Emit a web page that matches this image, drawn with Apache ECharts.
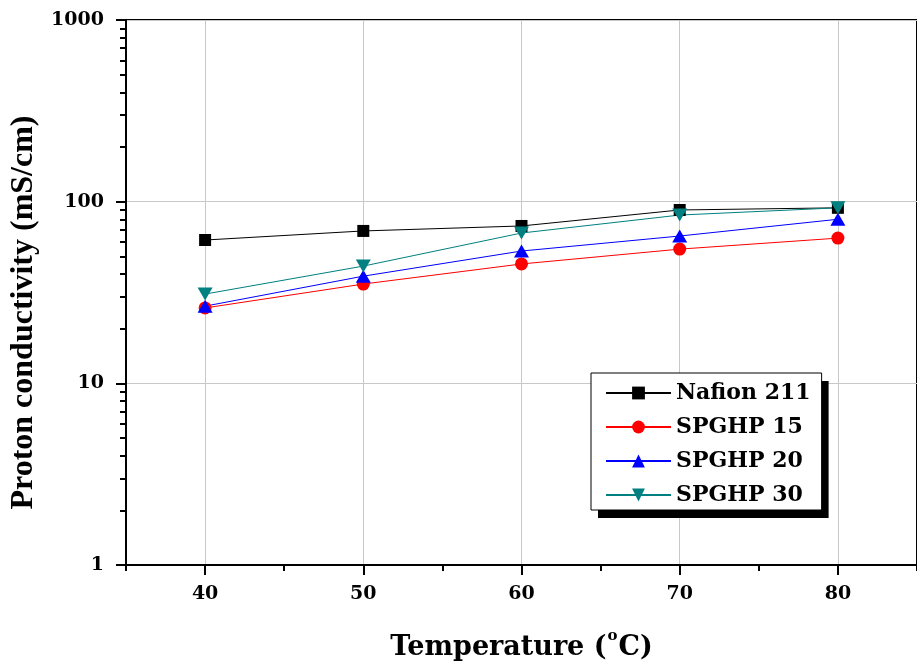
<!DOCTYPE html>
<html>
<head>
<meta charset="utf-8">
<script src="https://cdn.jsdelivr.net/npm/echarts@6/dist/echarts.min.js"></script>
<style>
  html, body { margin: 0; padding: 0; background: #fff; }
  #chart { width: 917px; height: 666px; }
</style>
</head>
<body>
<div id="chart"></div>
<script>
// Temperature (°C) and proton conductivity (mS/cm) of each membrane
const temperatures = [40, 50, 60, 70, 80];
const nafion211 = [61.5, 69, 73.5, 90, 92.5];
const spghp15 = [26, 35.2, 45.4, 54.8, 63];
const spghp20 = [26.6, 38.9, 53.5, 64.7, 80];
const spghp30 = [31, 44.2, 67.2, 84.4, 92.5];

const seriesNames = ['Nafion 211', 'SPGHP 15', 'SPGHP 20', 'SPGHP 30'];

// Axis tick positions
const xMajorTicks = [40, 50, 60, 70, 80];
const xMinorTicks = [35, 45, 55, 65, 75, 85];
const yMinorTicks = [2, 3, 4, 5, 6, 7, 8, 9, 20, 30, 40, 50, 60, 70, 80, 90, 200, 300, 400, 500, 600, 700, 800, 900];

const hFont = 'DejaVu Serif';
const vFont = 'Liberation Serif';

function pairs(values) {
  return temperatures.map((t, i) => [t, values[i]]);
}

const downTriangle = 'path://M0,0 L10,0 L5,9 Z';

// Shared legend layout; the lower copy carries the white box and its drop shadow,
// the upper copy carries the thin outline (so the outline casts no shadow).
const legendBase = {
  orient: 'vertical',
  left: 591, top: 373,
  itemWidth: 65, itemHeight: 16, itemGap: 10,
  padding: [8, 11, 3, 14],
  textStyle: { fontFamily: hFont, fontWeight: 'bold', fontSize: 22, color: '#000', lineHeight: 24 },
  data: seriesNames
};

const chart = echarts.init(document.getElementById('chart'), null, { renderer: 'canvas' });

chart.setOption({
  animation: false,
  backgroundColor: '#fff',
  grid: {
    left: 126, top: 20, width: 797, height: 545,
    show: true, borderColor: '#000', borderWidth: 2, backgroundColor: 'transparent'
  },
  legend: [
    Object.assign({}, legendBase, {
      backgroundColor: '#fff',
      borderWidth: 0,
      shadowColor: '#000', shadowBlur: 0, shadowOffsetX: 7, shadowOffsetY: 8
    }),
    Object.assign({}, legendBase, {
      backgroundColor: 'transparent',
      borderColor: '#000', borderWidth: 1,
      textStyle: Object.assign({}, legendBase.textStyle, { color: 'rgba(0,0,0,0)' }),
      itemStyle: { opacity: 0 },
      lineStyle: { opacity: 0 }
    })
  ],
  xAxis: [
    {
      type: 'value', min: 35, max: 85,
      position: 'bottom',
      axisLine: { show: true, lineStyle: { color: '#000', width: 2 } },
      axisTick: { show: true, customValues: xMajorTicks, length: 10, lineStyle: { color: '#000', width: 2 } },
      axisLabel: {
        customValues: xMajorTicks, margin: 20,
        fontFamily: hFont, fontWeight: 'bold', fontSize: 19, color: '#000'
      },
      splitLine: { show: true, lineStyle: { color: '#c8c8c8', width: 1 } },
      name: '{t|Temperature (}{s|o}{t|C)}',
      nameLocation: 'middle',
      nameGap: 64,
      nameTextStyle: {
        rich: {
          t: { fontFamily: hFont, fontWeight: 'bold', fontSize: 27, color: '#000', verticalAlign: 'bottom', lineHeight: 32 },
          s: { fontFamily: hFont, fontWeight: 'bold', fontSize: 15, color: '#000', verticalAlign: 'top', lineHeight: 32, padding: [0, 1, 10, 1] }
        }
      }
    },
    {
      type: 'value', min: 35, max: 85,
      position: 'bottom',
      axisLine: { show: false },
      axisTick: { show: true, customValues: xMinorTicks, length: 6, lineStyle: { color: '#000', width: 2 } },
      axisLabel: { show: false },
      splitLine: { show: false }
    }
  ],
  yAxis: [
    {
      type: 'log', logBase: 10, min: 1, max: 1000,
      position: 'left',
      axisLine: { show: true, lineStyle: { color: '#000', width: 2 } },
      axisTick: { show: true, length: 10, lineStyle: { color: '#000', width: 2 } },
      axisLabel: {
        margin: 22,
        formatter: (v) => String(Math.round(v)),
        fontFamily: hFont, fontWeight: 'bold', fontSize: 19, color: '#000'
      },
      splitLine: { show: true, lineStyle: { color: '#c8c8c8', width: 1 } },
      name: 'Proton conductivity (mS/cm)',
      nameLocation: 'middle',
      nameGap: 76,
      nameTextStyle: { fontFamily: vFont, fontWeight: 'bold', fontSize: 32, color: '#000', padding: [0, 40, 0, 0] }
    },
    {
      type: 'log', logBase: 10, min: 1, max: 1000,
      position: 'left',
      axisLine: { show: false },
      axisTick: { show: true, customValues: yMinorTicks, length: 6, lineStyle: { color: '#000', width: 2 } },
      axisLabel: { show: false },
      splitLine: { show: false }
    }
  ],
  series: [
    {
      name: seriesNames[0], type: 'line', xAxisIndex: 0, yAxisIndex: 0,
      data: pairs(nafion211),
      symbol: 'rect', symbolSize: 12,
      lineStyle: { color: '#000', width: 1 },
      itemStyle: { color: '#000' }
    },
    {
      name: seriesNames[1], type: 'line', xAxisIndex: 0, yAxisIndex: 0,
      data: pairs(spghp15),
      symbol: 'circle', symbolSize: 13,
      lineStyle: { color: '#ff0000', width: 1 },
      itemStyle: { color: '#ff0000' }
    },
    {
      name: seriesNames[2], type: 'line', xAxisIndex: 0, yAxisIndex: 0,
      data: pairs(spghp20),
      symbol: 'triangle', symbolSize: [15, 13],
      lineStyle: { color: '#0000ff', width: 1 },
      itemStyle: { color: '#0000ff' }
    },
    {
      name: seriesNames[3], type: 'line', xAxisIndex: 0, yAxisIndex: 0,
      data: pairs(spghp30),
      symbol: downTriangle, symbolSize: [15, 13],
      lineStyle: { color: '#008080', width: 1 },
      itemStyle: { color: '#008080' }
    }
  ]
});
</script>
</body>
</html>
